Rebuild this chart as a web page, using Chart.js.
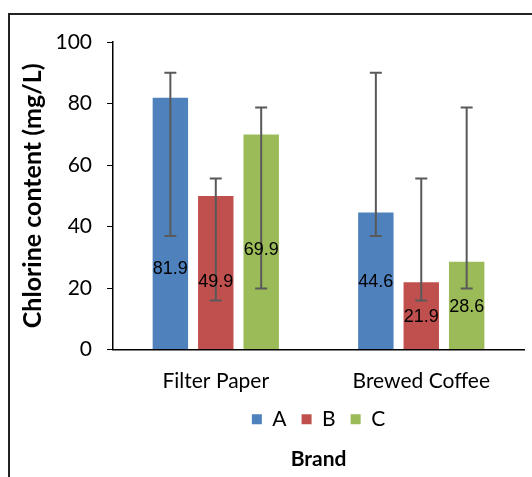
<!DOCTYPE html>
<html>
<head>
<meta charset="utf-8">
<script src="https://cdn.jsdelivr.net/npm/chart.js@4.4.1/dist/chart.umd.min.js"></script>
<style>
  html, body { margin: 0; padding: 0; background: #fff; overflow: hidden; }
  #wrap { position: relative; width: 532px; height: 477px; overflow: hidden; }
  #frame { position: absolute; left: 8px; top: 13px; width: 600px; height: 600px;
           border-left: 2px solid #222; border-top: 2px solid #222; box-sizing: border-box; }
  canvas { position: absolute; left: 0; top: 0; }
</style>
</head>
<body>
<div id="wrap">
  <div id="frame"></div>
  <canvas id="myChart" width="532" height="477"></canvas>
</div>
<script>
// categories and series
const brands = ['Filter Paper', 'Brewed Coffee'];
const seriesNames = ['A', 'B', 'C'];
const valuesA = [81.9, 44.6];
const valuesB = [49.9, 21.9];
const valuesC = [69.9, 28.6];

// error bar ends (same for both groups in the source chart)
const errLowA = [36.9, 36.9];
const errHighA = [90.0, 90.0];
const errLowB = [16.0, 16.0];
const errHighB = [55.6, 55.6];
const errLowC = [19.9, 19.9];
const errHighC = [78.7, 78.7];

// where the value labels sit, in axis units
const labelAtA = [26.1, 21.9];
const labelAtB = [21.9, 10.5];
const labelAtC = [32.4, 13.7];

// y axis ticks
const yTicks = [0, 20, 40, 60, 80, 100];

const colors = ['#4F81BD', '#C0504D', '#9BBB59'];
const uiFont = 'Lato, Carlito, Calibri, sans-serif';

const errLow = [errLowA, errLowB, errLowC];
const errHigh = [errHighA, errHighB, errHighC];
const labelAt = [labelAtA, labelAtB, labelAtC];

// draws error bars and value labels on top of the bars
const extrasPlugin = {
    id: 'extras',
    afterDatasetsDraw(chart) {
        const ctx = chart.ctx;
        const y = chart.scales.y;
        chart.data.datasets.forEach((ds, d) => {
            const meta = chart.getDatasetMeta(d);
            meta.data.forEach((bar, i) => {
                const top = y.getPixelForValue(errHigh[d][i]);
                const bot = y.getPixelForValue(errLow[d][i]);
                ctx.save();
                ctx.strokeStyle = '#595959';
                ctx.lineWidth = 2;
                ctx.beginPath();
                ctx.moveTo(bar.x, top);
                ctx.lineTo(bar.x, bot);
                ctx.moveTo(bar.x - 6, top);
                ctx.lineTo(bar.x + 6, top);
                ctx.moveTo(bar.x - 6, bot);
                ctx.lineTo(bar.x + 6, bot);
                ctx.stroke();
                ctx.restore();
            });
        });
        chart.data.datasets.forEach((ds, d) => {
            const meta = chart.getDatasetMeta(d);
            meta.data.forEach((bar, i) => {
                ctx.save();
                ctx.fillStyle = '#000';
                ctx.font = '18px "Liberation Sans", Arial, sans-serif';
                ctx.textAlign = 'center';
                ctx.textBaseline = 'middle';
                ctx.fillText(ds.data[i].toFixed(1), bar.x, y.getPixelForValue(labelAt[d][i]));
                ctx.restore();
            });
        });
    }
};

const ctx = document.getElementById('myChart').getContext('2d');
const myChart = new Chart(ctx, {
    type: 'bar',
    data: {
        labels: brands,
        datasets: [
            { label: seriesNames[0], data: valuesA, backgroundColor: colors[0] },
            { label: seriesNames[1], data: valuesB, backgroundColor: colors[1] },
            { label: seriesNames[2], data: valuesC, backgroundColor: colors[2] }
        ]
    },
    options: {
        responsive: false,
        animation: false,
        categoryPercentage: 0.663,
        barPercentage: 0.78,
        layout: {
            padding: { left: 12, right: 8, top: 42, bottom: 4 }
        },
        scales: {
            x: {
                // hidden tick marks, their length only pushes the labels down
                grid: { display: false, drawTicks: true, tickLength: 19 },
                border: { display: true, color: '#000', width: 1.5 },
                ticks: {
                    color: '#000',
                    padding: 0,
                    font: { family: uiFont, size: 21 }
                }
            },
            y: {
                min: 0,
                max: 100,
                afterBuildTicks: scale => {
                    scale.ticks = yTicks.map(v => ({ value: v }));
                },
                grid: {
                    drawOnChartArea: false,
                    drawTicks: true,
                    tickLength: 6,
                    color: '#000'
                },
                border: { display: true, color: '#000', width: 1.5 },
                ticks: {
                    color: '#000',
                    padding: 15,
                    font: { family: uiFont, size: 21 }
                },
                title: {
                    display: true,
                    text: 'Chlorine content (mg/L)',
                    color: '#000',
                    padding: { top: 13, bottom: 0 },
                    font: { family: uiFont, size: 25, weight: 'bold', lineHeight: 0.62 }
                }
            }
        },
        plugins: {
            legend: {
                position: 'bottom',
                fullSize: false,
                labels: {
                    color: '#000',
                    boxWidth: 10,
                    boxHeight: 10,
                    padding: 15,
                    font: { family: uiFont, size: 21 }
                }
            },
            title: {
                display: true,
                position: 'bottom',
                fullSize: false,
                text: 'Brand',
                color: '#000',
                padding: { top: 7, bottom: 1 },
                font: { family: uiFont, size: 21, weight: 'bold' }
            },
            tooltip: { enabled: false }
        }
    },
    plugins: [extrasPlugin]
});
</script>
</body>
</html>
